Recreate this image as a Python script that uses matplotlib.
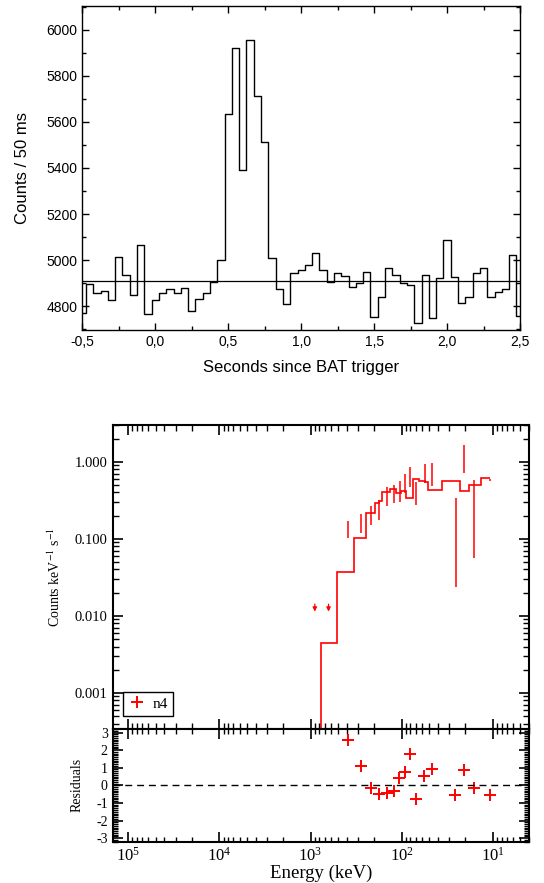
import numpy as np
import matplotlib
matplotlib.use("Agg")
from matplotlib import pyplot as plt
from matplotlib.ticker import MultipleLocator, FuncFormatter, LogLocator, NullFormatter, FixedLocator
from matplotlib.lines import Line2D

plt.rcParams['axes.unicode_minus'] = False
plt.rcParams['mathtext.fontset'] = 'stix'

# --- light curve (50 ms bins) ---
t_start, t_stop, n_bins = -0.5, 2.5, 61
counts = [4768, 4896, 4858, 4867, 4826, 5014, 4935, 4848, 5064, 4765,
          4826, 4855, 4872, 4858, 4877, 4778, 4830, 4858, 4906, 5000,
          5635, 5923, 5390, 5957, 5714, 5514, 5007, 4872, 4807, 4942,
          4957, 4978, 5029, 4957, 4906, 4945, 4930, 4881, 4899, 4949,
          4751, 4841, 4967, 4935, 4901, 4891, 4728, 4933, 4746, 4920,
          5085, 4928, 4814, 4838, 4945, 4967, 4841, 4859, 4872, 5020,
          4757]
background = 4910

# --- spectrum: model steps (keV, ascending) ---
model_edges = [10.7, 13.4, 18.3, 23.1, 36, 51.6, 56.1, 64.8, 75.4, 89, 101,
               116.7, 135.8, 163.3, 178, 198.4, 249, 337.3, 514.5, 763, 1500]
model_vals = [0.608, 0.494, 0.42, 0.56, 0.429, 0.55, 0.566, 0.59, 0.341, 0.42,
              0.389, 0.438, 0.408, 0.312, 0.288, 0.218, 0.103, 0.037, 0.00438, 1e-6]

# data error bars
data_e = [385.7, 282.7, 219.5, 176.2, 146.5, 121.8, 105.5, 92.2, 81.3, 69.1,
          56.1, 46.1, 25.4, 20.6, 16.0, 10.8]
data_lo = [0.101, 0.1175, 0.151, 0.175, 0.268, 0.288, 0.303, 0.389, 0.473, 0.271,
           0.524, 0.488, 0.0234, 0.719, 0.0561, 0.56]
data_hi = [0.171, 0.207, 0.266, 0.315, 0.465, 0.498, 0.556, 0.692, 0.861, 0.550,
           0.934, 0.970, 0.335, 1.648, 0.578, 0.60]

# upper limits
ul_e = [897, 634]
ul_val = [0.0142, 0.0142]

# residuals
res_e = [389.6, 282.7, 219.5, 178, 146.5, 122.7, 107.3, 92.2, 81.9, 69.8,
         56.5, 46.6, 25.8, 20.6, 16.1, 10.8]
res_val = [2.55, 1.12, -0.13, -0.49, -0.45, -0.30, 0.42, 0.76, 1.80, -0.78,
           0.53, 0.93, -0.55, 0.88, -0.15, -0.57]

fig = plt.figure(figsize=(5.44, 8.83), dpi=100)

# ================= top panel =================
sans = 'Liberation Sans'
ax1 = fig.add_axes([0.1513, 0.6263, 0.8047, 0.3669])
t = np.linspace(t_start, t_stop, n_bins)
ax1.step(t, counts, where='mid', color='black', lw=1.0)
ax1.axhline(background, color='black', lw=0.9)
ax1.set_xlim(-0.5, 2.5)
ax1.set_ylim(4696, 6104)
ax1.xaxis.set_major_locator(MultipleLocator(0.5))
ax1.xaxis.set_minor_locator(MultipleLocator(0.25))
ax1.yaxis.set_major_locator(MultipleLocator(200))
ax1.yaxis.set_minor_locator(MultipleLocator(100))
ax1.xaxis.set_major_formatter(FuncFormatter(lambda v, p: f"{v:.1f}".replace('.', ',')))
ax1.tick_params(which='both', direction='in', top=True, right=True,
                labelsize=10, labelfontfamily=sans)
ax1.tick_params(which='major', length=5, width=1)
ax1.tick_params(which='minor', length=3, width=1)
ax1.set_xlabel('Seconds since BAT trigger', fontsize=12, family=sans)
ax1.set_ylabel('Counts / 50 ms', fontsize=12, family=sans)
ax1.xaxis.set_label_coords(0.5, -0.093)
ax1.yaxis.set_label_coords(-0.12, 0.5)
for s in ax1.spines.values():
    s.set_linewidth(1.0)

# ================= spectrum =================
serif = 'Liberation Serif'
ax2 = fig.add_axes([0.2072, 0.1744, 0.7653, 0.3443])
ax3 = fig.add_axes([0.2072, 0.0468, 0.7653, 0.1276], sharex=ax2)

ax2.set_xscale('log')
ax2.set_yscale('log')
ax2.stairs(model_vals, model_edges, color='red', lw=1.2, baseline=None)
ax2.vlines(data_e, data_lo, data_hi, color='red', lw=1.1)
for e, v in zip(ul_e, ul_val):
    ax2.annotate('', xy=(e, v * 0.8), xytext=(e, v),
                 arrowprops=dict(arrowstyle='-|>', color='red', lw=0.9,
                                 mutation_scale=6, shrinkA=0, shrinkB=0))
ax2.set_xlim(1.48e5, 4.0)
ax2.set_ylim(3.4e-4, 3.0)
ax2.yaxis.set_major_locator(FixedLocator([0.001, 0.01, 0.1, 1.0]))
ax2.yaxis.set_major_formatter(FuncFormatter(lambda v, p: f"{v:.3f}"))
ax2.yaxis.set_minor_locator(LogLocator(base=10, subs=np.arange(2, 10)))
ax2.yaxis.set_minor_formatter(NullFormatter())
ax2.tick_params(which='both', direction='in', top=True, right=True,
                labelsize=10.5, labelfontfamily=serif, labelbottom=False)
ax2.tick_params(which='major', length=7, width=1.2)
ax2.tick_params(which='minor', length=4, width=1)
ax2.set_ylabel(r'Counts keV$^{-1}$ s$^{-1}$', fontsize=10, family=serif)
ax2.yaxis.set_label_coords(-0.119, 0.5)
for s in ax2.spines.values():
    s.set_linewidth(1.5)
proxy = Line2D([], [], ls='none', marker='+', color='red', ms=8, mew=1.4)
leg = ax2.legend([proxy], ['n4'], loc='lower left', bbox_to_anchor=(0.024, 0.043),
                 borderaxespad=0, fancybox=False, framealpha=1, edgecolor='black',
                 prop={'family': serif, 'size': 11}, handlelength=1.2,
                 handletextpad=0.4, borderpad=0.35)
leg.get_frame().set_linewidth(1.0)

ax3.plot(res_e, res_val, ls='none', marker='+', color='red', ms=8, mew=1.4)
ax3.axhline(0, color='black', lw=1.0, ls=(0, (5, 3.5)))
ax3.set_ylim(-3.2, 3.2)
ax3.yaxis.set_major_locator(MultipleLocator(1))
ax3.yaxis.set_minor_locator(MultipleLocator(0.1))
ax3.xaxis.set_major_locator(LogLocator(base=10))
ax3.xaxis.set_minor_locator(LogLocator(base=10, subs=np.arange(2, 10)))
ax3.xaxis.set_minor_formatter(NullFormatter())
ax3.tick_params(which='both', direction='in', top=True, right=True,
                labelfontfamily=serif)
ax3.tick_params(axis='y', labelsize=10)
ax3.tick_params(axis='x', labelsize=12)
ax3.tick_params(which='major', length=7, width=1.2)
ax3.tick_params(which='minor', length=3.5, width=1)
ax3.set_xlabel('Energy (keV)', fontsize=13.5, family=serif)
ax3.set_ylabel('Residuals', fontsize=10, family=serif)
ax3.xaxis.set_label_coords(0.5, -0.2)
ax3.yaxis.set_label_coords(-0.071, 0.5)
for s in ax3.spines.values():
    s.set_linewidth(1.5)

fig.savefig('out.png', dpi=100)
